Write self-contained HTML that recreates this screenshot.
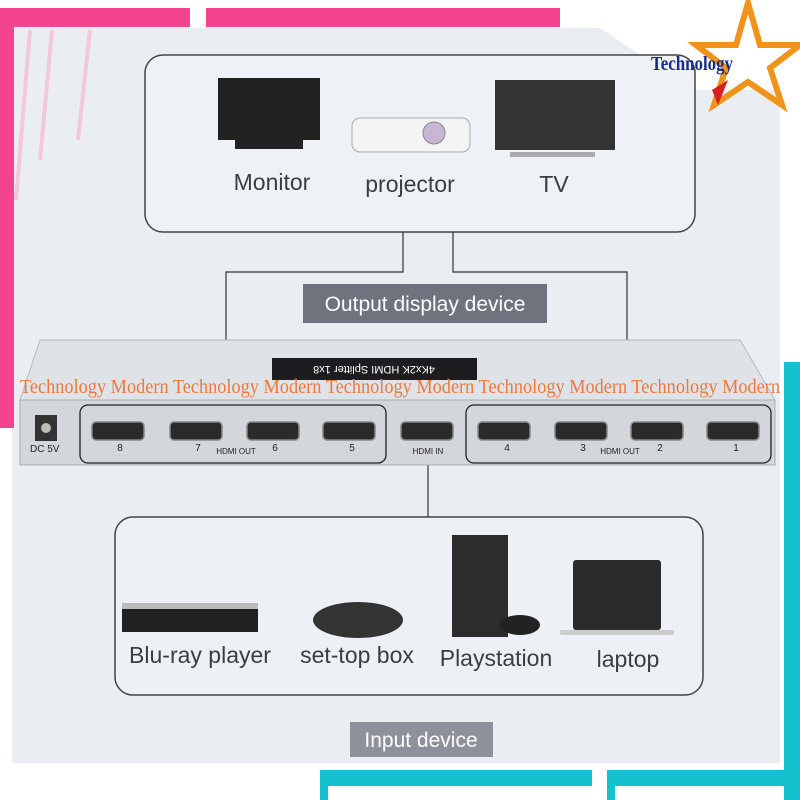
<!DOCTYPE html>
<html><head><style>html,body{margin:0;padding:0;background:#fff}svg{display:block}</style></head>
<body>
<svg width="800" height="800" viewBox="0 0 800 800" xmlns="http://www.w3.org/2000/svg" font-family="Liberation Sans, sans-serif">
<rect width="800" height="800" fill="#fff"/>
<polygon points="12,28 600,28 640,55 640,90 780,90 780,763 12,763" fill="#eaeef2"/>
<rect x="0" y="8" width="190" height="19" fill="#f5448f"/>
<rect x="206" y="8" width="354" height="19" fill="#f5448f"/>
<rect x="0" y="8" width="14" height="420" fill="#f5448f"/>
<line x1="30" y1="30" x2="16" y2="200" stroke="#f3c8dc" stroke-width="4"/>
<line x1="52" y1="30" x2="40" y2="160" stroke="#f3c8dc" stroke-width="4"/>
<line x1="90" y1="30" x2="78" y2="140" stroke="#f3c8dc" stroke-width="4"/>
<rect x="784" y="362" width="16" height="438" fill="#15c1cf"/>
<rect x="320" y="770" width="272" height="16" fill="#15c1cf"/>
<rect x="320" y="770" width="8" height="30" fill="#15c1cf"/>
<rect x="607" y="770" width="193" height="16" fill="#15c1cf"/>
<rect x="607" y="770" width="8" height="30" fill="#15c1cf"/>
<!-- top box -->
<rect x="145" y="55" width="550" height="177" rx="18" fill="#eef1f5" stroke="#444" stroke-width="1.5"/>
<rect x="218" y="78" width="102" height="62" fill="#222"/>
<rect x="235" y="140" width="68" height="9" fill="#222"/>
<rect x="495" y="80" width="120" height="70" fill="#333"/>
<rect x="510" y="152" width="85" height="5" fill="#aaa"/>
<rect x="352" y="118" width="118" height="34" rx="8" fill="#f4f4f4" stroke="#aaa"/>
<circle cx="434" cy="133" r="11" fill="#c9b5d4" stroke="#888"/>
<text x="272" y="190" font-size="23" fill="#3a3d44" text-anchor="middle">Monitor</text>
<text x="410" y="192" font-size="23" fill="#3a3d44" text-anchor="middle">projector</text>
<text x="554" y="192" font-size="23" fill="#3a3d44" text-anchor="middle">TV</text>
<!-- star logo -->
<polygon points="748,3 760,45 800,45 770,68 782,105 748,82 714,105 726,68 696,45 736,45" fill="none" stroke="#f0931a" stroke-width="6"/>
<polygon points="712,90 728,80 718,105" fill="#d62020"/>
<text x="651" y="70" font-family="Liberation Serif, serif" font-weight="bold" font-size="20" fill="#1a2b8a" textLength="82" lengthAdjust="spacingAndGlyphs">Technology</text>
<!-- connectors -->
<polyline points="403,232 403,272 226,272 226,405" fill="none" stroke="#333" stroke-width="1.2"/>
<polyline points="453,232 453,272 627,272 627,405" fill="none" stroke="#333" stroke-width="1.2"/>
<line x1="428" y1="465" x2="428" y2="517" stroke="#333" stroke-width="1.2"/>
<rect x="303" y="284" width="244" height="39" fill="#6e737d"/>
<text x="425" y="311" font-size="21" fill="#fff" text-anchor="middle">Output display device</text>
<!-- device -->
<polygon points="40,340 740,340 775,400 20,400" fill="#dfe2e6" stroke="#b5b9be"/>
<rect x="20" y="400" width="755" height="65" fill="#d3d6da" stroke="#a8acb1"/>
<rect x="272" y="358" width="205" height="22" fill="#1d1d1f"/>
<text x="374" y="374" font-size="11" fill="#fff" text-anchor="middle" transform="rotate(180 374 370)">4Kx2K HDMI Splitter 1x8</text>
<rect x="35" y="415" width="22" height="26" fill="#333"/>
<circle cx="46" cy="428" r="5" fill="#bbb"/>
<text x="30" y="452" font-size="10" fill="#222">DC 5V</text>
<rect x="80" y="405" width="306" height="58" rx="8" fill="none" stroke="#222" stroke-width="1.3"/>
<rect x="466" y="405" width="305" height="58" rx="8" fill="none" stroke="#222" stroke-width="1.3"/>
<g fill="#2a2a2a" stroke="#888" stroke-width="1.5">
<rect x="92" y="422" width="52" height="18" rx="4"/><rect x="170" y="422" width="52" height="18" rx="4"/>
<rect x="247" y="422" width="52" height="18" rx="4"/><rect x="323" y="422" width="52" height="18" rx="4"/>
<rect x="401" y="422" width="52" height="18" rx="4"/>
<rect x="478" y="422" width="52" height="18" rx="4"/><rect x="555" y="422" width="52" height="18" rx="4"/>
<rect x="631" y="422" width="52" height="18" rx="4"/><rect x="707" y="422" width="52" height="18" rx="4"/>
</g>
<g font-size="10" fill="#222" text-anchor="middle">
<text x="120" y="451">8</text><text x="198" y="451">7</text><text x="275" y="451">6</text><text x="352" y="451">5</text>
<text x="236" y="454" font-size="8">HDMI OUT</text><text x="428" y="454" font-size="8">HDMI IN</text>
<text x="507" y="451">4</text><text x="583" y="451">3</text><text x="660" y="451">2</text><text x="736" y="451">1</text>
<text x="620" y="454" font-size="8">HDMI OUT</text>
</g>
<text x="20" y="393" font-family="Liberation Serif, serif" font-size="20" fill="#ec7a3e" textLength="760" lengthAdjust="spacingAndGlyphs">Technology Modern Technology Modern Technology Modern Technology Modern Technology Modern</text>
<!-- bottom box -->
<rect x="115" y="517" width="588" height="178" rx="18" fill="#edf0f4" stroke="#444" stroke-width="1.5"/>
<rect x="122" y="606" width="136" height="26" fill="#222"/>
<rect x="122" y="603" width="136" height="6" fill="#bbb"/>
<ellipse cx="358" cy="620" rx="45" ry="18" fill="#333"/>
<rect x="452" y="535" width="56" height="102" fill="#2c2c2c"/>
<ellipse cx="520" cy="625" rx="20" ry="10" fill="#222"/>
<rect x="573" y="560" width="88" height="70" rx="3" fill="#2b2b2b"/>
<rect x="560" y="630" width="114" height="5" rx="2" fill="#ccc"/>
<text x="200" y="663" font-size="23" fill="#3a3d44" text-anchor="middle">Blu-ray player</text>
<text x="357" y="663" font-size="23" fill="#3a3d44" text-anchor="middle">set-top box</text>
<text x="496" y="666" font-size="23" fill="#3a3d44" text-anchor="middle">Playstation</text>
<text x="628" y="667" font-size="23" fill="#3a3d44" text-anchor="middle">laptop</text>
<rect x="350" y="722" width="143" height="35" fill="#8e919c"/>
<text x="421" y="747" font-size="21" fill="#fff" text-anchor="middle">Input device</text>
</svg>
</body></html>
